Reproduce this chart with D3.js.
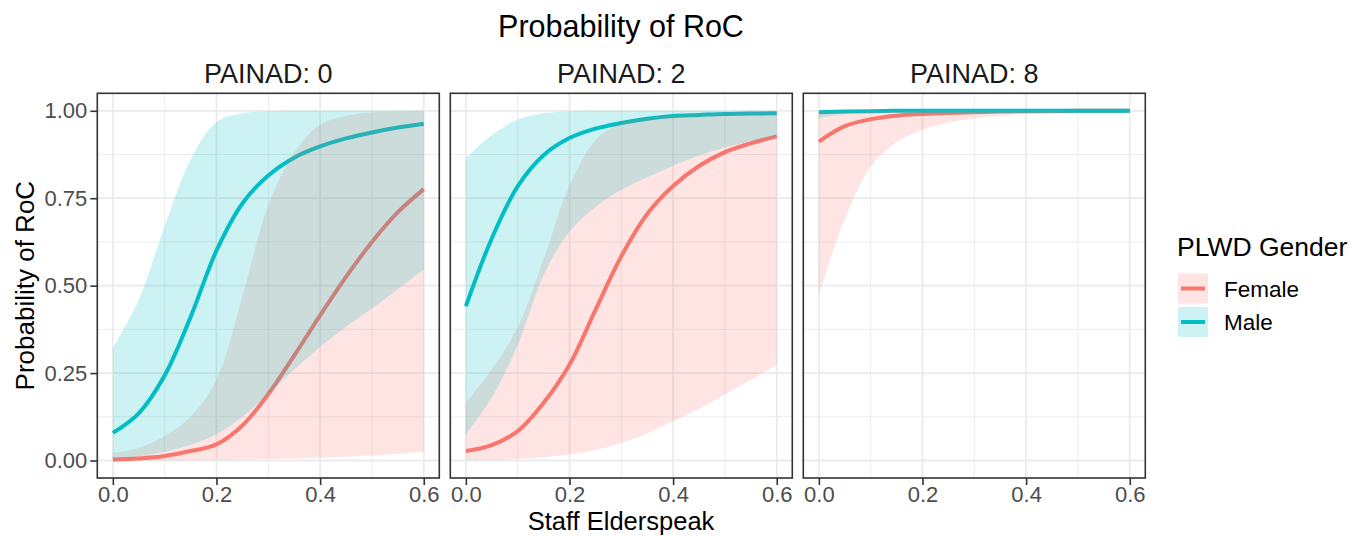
<!DOCTYPE html>
<html lang="en">
<head>
<meta charset="UTF-8">
<title>Probability of RoC</title>
<script src="https://d3js.org/d3.v7.min.js"></script>
<style>
  body { margin: 0; background: #fff; }
  text { font-family: "Liberation Sans", Arial, sans-serif; }
</style>
</head>
<body>
<div id="chart"></div>
<script>
// Staff Elderspeak values where the curves were read
const xs = [0, 0.05, 0.1, 0.15, 0.2, 0.25, 0.3, 0.35, 0.4, 0.45, 0.5, 0.55, 0.6];

const panels = ["PAINAD: 0", "PAINAD: 2", "PAINAD: 8"];
const genders = ["Female", "Male"];

// PAINAD: 0
const femaleFit0 = [0.003, 0.006, 0.013, 0.027, 0.046, 0.10, 0.19, 0.30, 0.415, 0.525, 0.625, 0.71, 0.776];
const femaleLo0  = [0, 0, 0.001, 0.001, 0.002, 0.003, 0.004, 0.006, 0.008, 0.011, 0.014, 0.019, 0.026];
const femaleHi0  = [0.022, 0.036, 0.07, 0.125, 0.231, 0.47, 0.73, 0.88, 0.96, 0.985, 0.995, 0.998, 0.999];
const maleFit0   = [0.079, 0.135, 0.243, 0.41, 0.6, 0.735, 0.815, 0.866, 0.898, 0.921, 0.938, 0.952, 0.963];
const maleLo0    = [0.004, 0.012, 0.025, 0.045, 0.075, 0.125, 0.19, 0.26, 0.325, 0.383, 0.435, 0.49, 0.546];
const maleHi0    = [0.322, 0.46, 0.67, 0.86, 0.968, 0.993, 0.999, 1, 1, 1, 1, 1, 1];

// PAINAD: 2
const femaleFit2 = [0.027, 0.044, 0.084, 0.165, 0.274, 0.43, 0.584, 0.705, 0.785, 0.842, 0.882, 0.907, 0.927];
const femaleLo2  = [0.001, 0.002, 0.004, 0.009, 0.017, 0.03, 0.05, 0.078, 0.112, 0.148, 0.189, 0.23, 0.274];
const femaleHi2  = [0.165, 0.26, 0.38, 0.575, 0.785, 0.916, 0.966, 0.98, 0.988, 0.993, 0.996, 0.998, 0.999];
const maleFit2   = [0.441, 0.635, 0.784, 0.873, 0.922, 0.949, 0.965, 0.977, 0.985, 0.988, 0.991, 0.992, 0.993];
const maleLo2    = [0.074, 0.18, 0.33, 0.53, 0.655, 0.725, 0.774, 0.81, 0.843, 0.872, 0.895, 0.912, 0.927];
const maleHi2    = [0.865, 0.93, 0.975, 0.993, 0.999, 1, 1, 1, 1, 1, 1, 1, 1];

// PAINAD: 8
const femaleFit8 = [0.912, 0.956, 0.976, 0.986, 0.991, 0.994, 0.996, 0.998, 0.999, 0.999, 1, 1, 1];
const femaleLo8  = [0.474, 0.69, 0.841, 0.91, 0.946, 0.966, 0.979, 0.986, 0.991, 0.994, 0.997, 0.998, 0.999];
const femaleHi8  = [0.999, 1, 1, 1, 1, 1, 1, 1, 1, 1, 1, 1, 1];
const maleFit8   = [0.996, 0.998, 0.999, 1, 1, 1, 1, 1, 1, 1, 1, 1, 1];
const maleLo8    = [0.979, 0.991, 0.997, 0.999, 1, 1, 1, 1, 1, 1, 1, 1, 1];
const maleHi8    = [1, 1, 1, 1, 1, 1, 1, 1, 1, 1, 1, 1, 1];

const xTicks = [0, 0.2, 0.4, 0.6];
const xMinor = [0.1, 0.3, 0.5];
const yTicks = [0, 0.25, 0.5, 0.75, 1];
const yMinor = [0.125, 0.375, 0.625, 0.875];

const series = [
  { Female: [femaleFit0, femaleLo0, femaleHi0], Male: [maleFit0, maleLo0, maleHi0] },
  { Female: [femaleFit2, femaleLo2, femaleHi2], Male: [maleFit2, maleLo2, maleHi2] },
  { Female: [femaleFit8, femaleLo8, femaleHi8], Male: [maleFit8, maleLo8, maleHi8] }
];

const colors = { Female: "#F8766D", Male: "#00BFC4" };

const width = 1354, height = 536;
const panelW = 342, gap = 11;
const left0 = 97.3;
const plotTop = 93.3, plotBottom = 478;
const smooth = d3.curveCatmullRom.alpha(0.5);

const svg = d3.select("#chart").append("svg")
  .attr("width", width).attr("height", height);

// chart title
svg.append("text")
  .attr("x", 621).attr("y", 37)
  .attr("text-anchor", "middle")
  .attr("font-size", 30.5)
  .attr("fill", "#000")
  .text("Probability of RoC");

const y = d3.scaleLinear().domain([-0.05, 1.05]).range([plotBottom, plotTop]);

panels.forEach((name, i) => {
  const x0 = left0 + i * (panelW + gap);
  const x = d3.scaleLinear().domain([-0.03, 0.63]).range([x0, x0 + panelW]);
  const g = svg.append("g");

  // grid
  g.selectAll(".ymin").data(yMinor).enter().append("line")
    .attr("x1", x0).attr("x2", x0 + panelW)
    .attr("y1", d => y(d)).attr("y2", d => y(d))
    .attr("stroke", "#EBEBEB").attr("stroke-width", 0.9);
  g.selectAll(".xmin").data(xMinor).enter().append("line")
    .attr("y1", plotTop).attr("y2", plotBottom)
    .attr("x1", d => x(d)).attr("x2", d => x(d))
    .attr("stroke", "#EBEBEB").attr("stroke-width", 0.9);
  g.selectAll(".ymaj").data(yTicks).enter().append("line")
    .attr("x1", x0).attr("x2", x0 + panelW)
    .attr("y1", d => y(d)).attr("y2", d => y(d))
    .attr("stroke", "#EBEBEB").attr("stroke-width", 1.8);
  g.selectAll(".xmaj").data(xTicks).enter().append("line")
    .attr("y1", plotTop).attr("y2", plotBottom)
    .attr("x1", d => x(d)).attr("x2", d => x(d))
    .attr("stroke", "#EBEBEB").attr("stroke-width", 1.8);

  // lines first, ribbons on top (as in the original)
  const line = d3.line()
    .x((d, k) => x(xs[k])).y(d => y(d))
    .curve(smooth);
  genders.forEach(gd => {
    g.append("path")
      .attr("d", line(series[i][gd][0]))
      .attr("fill", "none")
      .attr("stroke", colors[gd])
      .attr("stroke-width", 4);
  });
  genders.forEach(gd => {
    const lo = series[i][gd][1], hi = series[i][gd][2];
    const area = d3.area()
      .x((d, k) => x(xs[k]))
      .y0((d, k) => y(lo[k]))
      .y1((d, k) => y(hi[k]))
      .curve(smooth);
    g.append("path")
      .attr("d", area(xs))
      .attr("fill", colors[gd])
      .attr("fill-opacity", 0.2);
  });

  // panel border
  g.append("rect")
    .attr("x", x0).attr("y", plotTop)
    .attr("width", panelW).attr("height", plotBottom - plotTop)
    .attr("fill", "none").attr("stroke", "#333333").attr("stroke-width", 1.6);

  // strip label
  svg.append("text")
    .attr("x", x0 + panelW / 2).attr("y", 83)
    .attr("text-anchor", "middle")
    .attr("font-size", 27)
    .attr("fill", "#1A1A1A")
    .text(name);

  // x axis
  const xAxis = svg.append("g")
    .attr("transform", `translate(0,${plotBottom})`)
    .call(d3.axisBottom(x).tickValues(xTicks).tickFormat(d3.format(".1f"))
      .tickSize(7).tickPadding(1.5));
  xAxis.select(".domain").remove();
  xAxis.selectAll(".tick line").attr("stroke", "#333333").attr("stroke-width", 1.6);
  xAxis.selectAll(".tick text")
    .attr("font-size", 22).attr("fill", "#4D4D4D")
    .attr("font-family", "Liberation Sans, Arial, sans-serif");

  // y axis only on first panel
  if (i === 0) {
    const yAxis = svg.append("g")
      .attr("transform", `translate(${x0},0)`)
      .call(d3.axisLeft(y).tickValues(yTicks).tickFormat(d3.format(".2f"))
        .tickSize(7).tickPadding(3));
    yAxis.select(".domain").remove();
    yAxis.selectAll(".tick line").attr("stroke", "#333333").attr("stroke-width", 1.6);
    yAxis.selectAll(".tick text")
      .attr("font-size", 22).attr("fill", "#4D4D4D")
      .attr("font-family", "Liberation Sans, Arial, sans-serif");
  }
});

// axis titles
svg.append("text")
  .attr("x", 621).attr("y", 530)
  .attr("text-anchor", "middle")
  .attr("font-size", 25.5)
  .text("Staff Elderspeak");

svg.append("text")
  .attr("transform", `translate(34,${(plotTop + plotBottom) / 2}) rotate(-90)`)
  .attr("text-anchor", "middle")
  .attr("font-size", 26)
  .text("Probability of RoC");

// legend
const legend = svg.append("g").attr("transform", "translate(1177,0)");
legend.append("text")
  .attr("x", 0).attr("y", 256)
  .attr("font-size", 26.5)
  .text("PLWD Gender");

genders.forEach((gd, k) => {
  const ky = 273.5 + k * 33.5;
  legend.append("rect")
    .attr("x", 1).attr("y", ky).attr("width", 30).attr("height", 30)
    .attr("fill", colors[gd]).attr("fill-opacity", 0.2);
  legend.append("line")
    .attr("x1", 4).attr("x2", 28)
    .attr("y1", ky + 15).attr("y2", ky + 15)
    .attr("stroke", colors[gd]).attr("stroke-width", 4);
  legend.append("text")
    .attr("x", 47).attr("y", ky + 23)
    .attr("font-size", 22.5)
    .text(gd);
});
</script>
</body>
</html>
